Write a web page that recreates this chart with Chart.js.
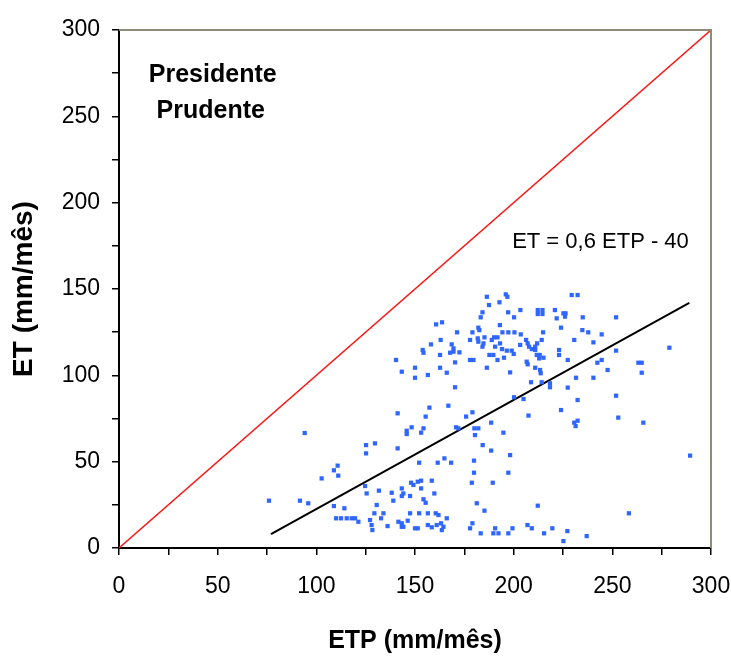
<!DOCTYPE html>
<html>
<head>
<meta charset="utf-8">
<script src="https://cdn.jsdelivr.net/npm/chart.js@4.4.1/dist/chart.umd.min.js"></script>
<style>
  html, body { margin: 0; padding: 0; background: #fff; }
  #wrap { width: 731px; height: 656px; }
</style>
</head>
<body>
<div id="wrap"><canvas id="chart"></canvas></div>
<script>
// ETP / ET monthly pairs (mm/mes)
const etp = [
  94.1, 76.0, 91.7, 95.9, 102.7, 108.9, 110.8, 111.1, 108.9, 114.2, 110.0, 112.5, 115.4, 117.9, 119.6, 121.3,
  125.2, 129.7, 125.2, 141.2, 141.2, 124.7, 125.5, 131.7, 138.2, 139.0, 130.6, 129.4, 134.0, 132.8, 127.2, 128.0,
  128.4, 136.1, 141.6, 143.3,
  186.4, 187.5, 192.8, 196.0, 196.8, 203.4, 197.2, 200.2, 212.2, 212.2, 214.6, 214.6, 184.2, 183.3, 160.7, 163.7,
  171.3, 179.1, 182.1, 182.6, 181.8, 182.1, 177.9, 185.2, 188.9, 190.1, 191.8, 193.0, 194.3, 197.3, 200.4, 203.6,
  193.1, 194.1, 196.5, 190.6, 184.2, 184.7, 206.3, 207.1, 207.8, 209.2, 210.9, 211.9, 214.2, 214.9, 210.9, 211.7,
  212.9, 213.2, 215.1, 203.3, 200.0, 199.0, 158.1, 163.0, 168.6, 169.5, 169.5, 172.5, 153.9, 154.3, 162.7, 167.8,
  170.3, 177.9, 179.6, 187.7, 189.7, 191.8, 195.1, 140.4, 143.3, 150.0, 150.0, 156.5, 162.7, 166.1, 186.4, 198.2,
  206.6, 207.1, 210.9, 213.4, 213.7, 208.8, 170.3, 214.2, 157.3, 166.9, 155.4, 175.9, 179.1, 200.2, 205.0, 207.5,
  170.8, 172.0, 180.1, 182.1, 180.4, 188.6, 194.8, 148.3, 145.8, 145.8, 153.1, 154.3, 184.3, 188.6, 198.2, 179.9,
  179.9, 178.8, 189.4, 197.3, 152.1, 161.5, 164.9, 168.3, 148.0, 149.2, 151.4, 153.1, 153.1, 158.5, 159.8, 143.3,
  144.1, 143.3, 147.5, 154.3, 155.4, 181.3, 185.2, 212.2, 147.5, 152.1, 156.5, 160.5, 161.9, 166.1, 143.3, 146.3,
  144.1, 150.0, 151.4, 156.5, 158.5, 161.0, 163.2, 164.4, 163.6, 179.1, 177.9, 183.3, 190.6, 189.7, 192.3, 197.3,
  199.4, 207.0, 209.2, 215.4,
  229.4, 232.4, 220.9, 221.8, 225.2, 226.3, 226.0, 235.0, 251.9, 224.0, 234.8, 237.8, 244.6, 230.7, 240.4, 223.0,
  223.0, 227.4, 251.9, 242.4, 244.6, 263.2, 264.9, 264.9, 247.6, 278.9, 218.4, 218.4, 231.6, 240.4, 227.4, 232.4,
  251.9, 224.0, 253.0,
  230.7, 232.4, 231.4, 265.7, 289.4, 258.4, 219.6, 227.2, 225.2, 237.0
];
const et = [
  66.6, 27.4, 27.4, 25.9, 40.3, 45.0, 47.7, 41.9, 24.3, 23.0, 17.2, 17.2, 17.2, 17.2, 17.2, 15.2,
  59.6, 60.6, 54.8, 57.7, 78.0, 35.9, 31.6, 33.2, 32.0, 27.4, 24.9, 20.1, 20.1, 17.2, 16.2, 13.3,
  10.4, 12.7, 15.2, 12.3,
  145.5, 140.7, 142.3, 146.9, 145.5, 137.8, 136.5, 133.6, 137.8, 135.5, 137.8, 135.5, 136.5, 133.6, 129.5, 130.7,
  124.9, 124.9, 127.6, 126.2, 121.4, 119.5, 120.5, 122.0, 120.5, 122.0, 122.0, 129.1, 124.9, 124.9, 124.9, 123.7,
  118.5, 115.2, 114.3, 116.6, 116.6, 118.5, 120.5, 118.5, 116.6, 115.2, 116.6, 118.5, 120.5, 124.9, 114.7, 111.8,
  109.8, 111.8, 110.2, 117.6, 112.4, 114.3, 117.9, 120.5, 117.9, 115.6, 113.7, 113.3, 114.7, 113.1, 111.8, 113.1,
  107.5, 108.9, 108.9, 111.8, 111.8, 108.9, 110.2, 108.9, 102.1, 104.4, 98.6, 100.2, 104.4, 101.5, 104.4, 101.7,
  107.9, 106.4, 104.4, 103.1, 101.2, 96.0, 93.1, 96.0, 81.3, 82.4, 76.1, 76.1, 78.6, 87.3, 86.3, 76.7,
  69.9, 69.3, 69.3, 69.3, 65.4, 72.6, 66.8, 69.9, 67.9, 66.0, 66.8, 69.3, 59.6, 56.4, 53.8, 50.6,
  43.6, 37.8, 37.8, 43.6, 49.4, 49.4, 51.9, 49.4, 37.8, 36.5, 38.4, 39.0, 34.5, 39.0, 31.6, 34.5,
  31.6, 30.1, 30.1, 28.2, 26.2, 25.9, 21.6, 24.5, 20.1, 20.1, 20.1, 20.1, 19.1, 17.2, 14.3, 15.8,
  12.3, 11.4, 11.4, 13.3, 12.0, 13.3, 14.3, 12.3, 10.4, 14.3, 11.4, 8.5, 11.4, 8.5, 8.5, 8.5,
  11.4, 13.3, 11.4, 8.5,
  146.5, 146.5, 137.8, 133.0, 135.9, 135.9, 134.0, 133.6, 133.6, 127.6, 126.2, 124.9, 123.7, 120.5, 119.1, 114.7,
  111.8, 108.9, 114.3, 107.3, 108.9, 107.3, 107.3, 101.5, 103.1, 116.0, 95.4, 93.1, 98.6, 98.6, 92.9, 85.7,
  88.2, 79.9, 75.5,
  72.6, 73.7, 70.6, 72.6, 53.5, 20.1, 11.4, 9.8, 4.0, 6.9
];

// fitted line drawn over the data range, and the 1:1 line
const trendX = [77, 289];
const trendY = [8, 142];
const refX = [0, 300];
const refY = [0, 300];

const xLabels = ['0', '50', '100', '150', '200', '250', '300'];
const yLabels = ['0', '50', '100', '150', '200', '250', '300'];

const toPts = (xs, ys) => xs.map((x, i) => ({ x: x, y: ys[i] }));

const fontFam = "'Liberation Sans', Arial, sans-serif";

// frame on top/right + text annotations
const extras = {
    id: 'extras',
    afterDraw(chart) {
        const { ctx, chartArea: a, scales } = chart;
        ctx.save();
        ctx.strokeStyle = '#8c8c78';
        ctx.lineWidth = 2;
        ctx.beginPath();
        ctx.moveTo(a.left, a.top);
        ctx.lineTo(a.right, a.top);
        ctx.lineTo(a.right, a.bottom);
        ctx.stroke();

        ctx.fillStyle = '#000';
        ctx.textAlign = 'center';
        ctx.textBaseline = 'middle';
        ctx.font = 'bold 25px ' + fontFam;
        ctx.fillText('Presidente', scales.x.getPixelForValue(47.5), scales.y.getPixelForValue(274));
        ctx.fillText('Prudente', scales.x.getPixelForValue(46.5), scales.y.getPixelForValue(253));
        ctx.font = '22px ' + fontFam;
        ctx.fillText('ET = 0,6 ETP - 40', scales.x.getPixelForValue(244), scales.y.getPixelForValue(177));
        ctx.restore();
    }
};

new Chart(document.getElementById('chart'), {
    type: 'scatter',
    data: {
        datasets: [{
            label: 'ET',
            data: toPts(etp, et),
            pointStyle: 'rect',
            pointRadius: 3,
            pointBorderWidth: 0,
            backgroundColor: '#2f66ff',
            borderColor: '#2f66ff'
        }, {
            label: 'ET = 0,6 ETP - 40',
            type: 'line',
            data: toPts(trendX, trendY),
            borderColor: '#000',
            borderWidth: 2,
            pointRadius: 0,
            fill: false
        }, {
            label: '1:1',
            type: 'line',
            data: toPts(refX, refY),
            borderColor: '#ff1a1a',
            borderWidth: 1.5,
            pointRadius: 0,
            fill: false
        }]
    },
    options: {
        responsive: true,
        maintainAspectRatio: false,
        animation: false,
        layout: { padding: { left: 0, top: 30, right: 20, bottom: 0 } },
        plugins: {
            legend: { display: false },
            tooltip: { enabled: false }
        },
        scales: {
            x: {
                type: 'linear',
                min: 0,
                max: 300,
                afterFit: s => { s.height = 108; s.paddingLeft = 0; s.paddingRight = 0; },
                border: { color: '#000', width: 2 },
                grid: { drawOnChartArea: false, drawTicks: true, tickLength: 7, color: '#000', lineWidth: 1.5 },
                ticks: {
                    stepSize: 25,
                    color: '#000',
                    padding: 18,
                    maxRotation: 0,
                    autoSkip: false,
                    font: { family: fontFam, size: 23 },
                    callback: v => (v % 50 === 0 ? xLabels[v / 50] : '')
                },
                title: {
                    display: true,
                    text: 'ETP (mm/mês)',
                    color: '#000',
                    font: { family: fontFam, size: 25, weight: 'bold' },
                    padding: { top: 0, bottom: 0 }
                }
            },
            y: {
                type: 'linear',
                min: 0,
                max: 300,
                afterFit: s => { s.width = 119; s.paddingTop = 0; s.paddingBottom = 0; },
                border: { color: '#000', width: 2 },
                grid: { drawOnChartArea: false, drawTicks: true, tickLength: 7, color: '#000', lineWidth: 1.5 },
                ticks: {
                    stepSize: 25,
                    color: '#000',
                    padding: 12,
                    autoSkip: false,
                    font: { family: fontFam, size: 23 },
                    callback: v => (v % 50 === 0 ? yLabels[v / 50] : '')
                },
                title: {
                    display: true,
                    text: 'ET (mm/mês)',
                    color: '#000',
                    font: { family: fontFam, size: 28, weight: 'bold' },
                    padding: { top: 7, bottom: 0 }
                }
            }
        }
    },
    plugins: [extras]
});
</script>
</body>
</html>
